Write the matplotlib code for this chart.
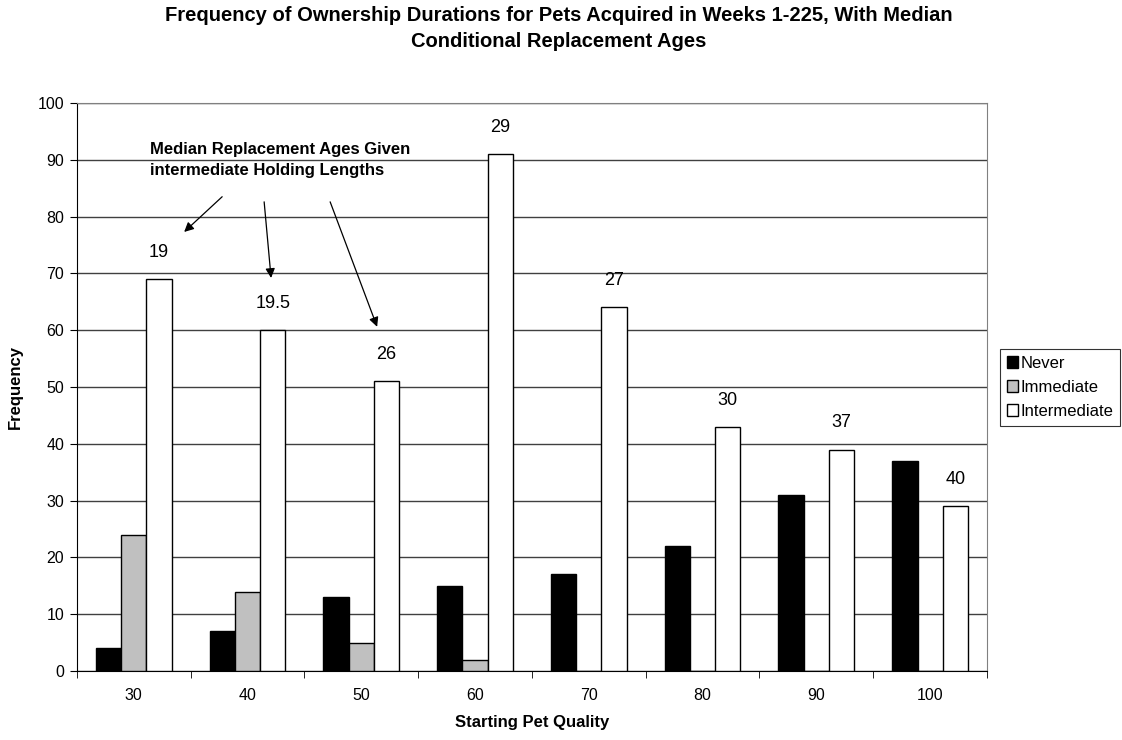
import matplotlib
matplotlib.use("Agg")
import matplotlib.pyplot as plt
import numpy as np

plt.rcParams['font.family'] = ['Liberation Sans', 'DejaVu Sans']

categories = ["30", "40", "50", "60", "70", "80", "90", "100"]
never = [4, 7, 13, 15, 17, 22, 31, 37]
immediate = [24, 14, 5, 2, 0, 0, 0, 0]
intermediate = [69, 60, 51, 91, 64, 43, 39, 29]
median_labels = ["19", "19.5", "26", "29", "27", "30", "37", "40"]

fig = plt.figure(figsize=(11.22, 7.4), dpi=100)
ax = fig.add_axes([0.0684, 0.0932, 0.8113, 0.7676])

x = np.arange(len(categories))
w = 0.222
ax.bar(x - w, never, w, color='black', edgecolor='black', linewidth=1, label='Never', zorder=3)
ax.bar(x, immediate, w, color='#c0c0c0', edgecolor='black', linewidth=1, label='Immediate', zorder=3)
ax.bar(x + w, intermediate, w, color='white', edgecolor='black', linewidth=1, label='Intermediate', zorder=3)

for xi, v, lab in zip(x, intermediate, median_labels):
    ax.text(xi + w, v + 3.9, lab, ha='center', va='baseline', fontsize=13)

ax.set_xlim(-0.5, len(categories) - 0.5)
ax.set_ylim(0, 100)
ax.set_yticks(np.arange(0, 101, 10))
ax.set_xticks(x)
ax.set_xticklabels(categories, fontsize=11.5)
ax.set_xticks(np.arange(-0.5, len(categories), 1), minor=True)
ax.tick_params(axis='x', which='major', length=0, pad=12)
ax.tick_params(axis='x', which='minor', length=5, direction='out', color='black')
ax.tick_params(axis='y', length=5, direction='out', labelsize=11.5, pad=4)
ax.grid(axis='y', color='#404040', linewidth=1, zorder=0)

for s in ['top', 'right']:
    ax.spines[s].set_color('#808080')
ax.spines['left'].set_color('black')
ax.spines['bottom'].set_color('black')

ax.set_xlabel('Starting Pet Quality', fontweight='bold', fontsize=12, labelpad=9)
ax.set_ylabel('Frequency', fontweight='bold', fontsize=12)
ax.yaxis.set_label_coords(-0.059, 0.5)

fig.suptitle('Frequency of Ownership Durations for Pets Acquired in Weeks 1-225, With Median\nConditional Replacement Ages',
             fontweight='bold', fontsize=14.5, x=0.498, y=0.992, va='top', linespacing=1.45)

ax.text(0.145, 89.9, 'Median Replacement Ages Given\nintermediate Holding Lengths',
        fontweight='bold', fontsize=12, va='center', ha='left', linespacing=1.5)

arrows = [((0.778, 83.5), (0.444, 77.3)),
          ((1.147, 82.6), (1.208, 69.2)),
          ((1.727, 82.6), (2.14, 60.6))]
for start, end in arrows:
    ax.annotate('', xy=end, xytext=start,
                arrowprops=dict(arrowstyle='-|>', color='black', lw=0.9,
                                mutation_scale=14, shrinkA=0, shrinkB=0))

leg = fig.legend(*ax.get_legend_handles_labels(), loc='upper left',
                 bbox_to_anchor=(1000 / 1122, 1 - 349 / 740), fontsize=12,
                 frameon=True, fancybox=False, edgecolor='black', handlelength=0.7,
                 handleheight=0.7, handletextpad=0.15, borderpad=0.4, labelspacing=0.55,
                 borderaxespad=0)
leg.get_frame().set_linewidth(0.8)

fig.savefig('out.png', dpi=100, facecolor='white')
